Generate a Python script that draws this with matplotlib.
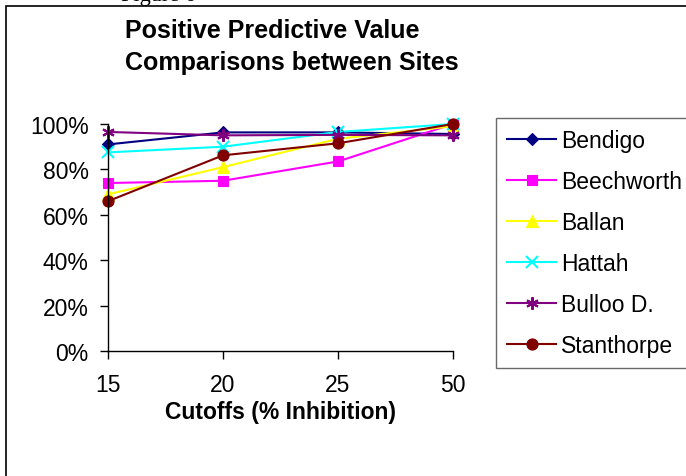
import matplotlib.pyplot as plt
from matplotlib.patches import Rectangle
from matplotlib.ticker import PercentFormatter

plt.rcParams['font.family'] = ['Liberation Sans', 'DejaVu Sans']

cutoffs = ['15', '20', '25', '50']
sites = ['Bendigo', 'Beechworth', 'Ballan', 'Hattah', 'Bulloo D.', 'Stanthorpe']
bendigo = [0.91, 0.963, 0.963, 0.956]
beechworth = [0.74, 0.75, 0.835, 1.0]
ballan = [0.69, 0.81, 0.935, 0.99]
hattah = [0.875, 0.90, 0.965, 1.0]
bulloo = [0.965, 0.95, 0.952, 0.95]
stanthorpe = [0.66, 0.862, 0.915, 1.0]
series = [bendigo, beechworth, ballan, hattah, bulloo, stanthorpe]

colors = ['#000080', '#FF00FF', '#FFFF00', '#00FFFF', '#800080', '#800000']
markers = ['D', 's', '^', 'x', (6, 2, 0), 'o']
msizes = [6.5, 7, 8, 8, 9, 8]

fig = plt.figure(figsize=(6.86, 4.77), dpi=100)
ax = fig.add_axes([108 / 686, 1 - 352 / 477, 345 / 686, 227 / 477])

x = range(len(cutoffs))
for name, vals, c, m, ms in zip(sites, series, colors, markers, msizes):
    ax.plot(x, vals, color=c, marker=m, markersize=ms, linewidth=1.5,
            markeredgewidth=1.5 if m in ('x', (6, 2, 0)) else 0.8,
            markeredgecolor=c, label=name, clip_on=False)

ax.set_xlim(0, 3)
ax.set_ylim(0, 1)
ax.set_xticks(list(x))
ax.set_xticklabels(cutoffs)
ax.set_yticks([0, 0.2, 0.4, 0.6, 0.8, 1.0])
ax.yaxis.set_major_formatter(PercentFormatter(1.0, decimals=0))
ax.tick_params(axis='both', direction='out', length=6, width=1, labelsize=16.5)
ax.tick_params(axis='x', pad=10)
ax.tick_params(axis='y', pad=8)
for side in ('top', 'right'):
    ax.spines[side].set_visible(False)
for side in ('left', 'bottom'):
    ax.spines[side].set_linewidth(1)

ax.set_xlabel('Cutoffs (% Inhibition)', fontsize=16.5, fontweight='bold', labelpad=3)

fig.text(125 / 686, 1 - 47 / 477, 'Positive Predictive Value\nComparisons between Sites',
         fontsize=18, fontweight='bold', ha='left', va='center', linespacing=1.4)

# caption cut off at the top of the image
fig.text(158 / 686, 1 - 1 / 477, 'Figure 6', family='Liberation Serif',
         fontsize=16, ha='center', va='baseline')

# outer chart frame
fig.patches.append(Rectangle((6 / 686, -0.2), 1.5, 1.2 - 7 / 477,
                             transform=fig.transFigure, fill=False,
                             edgecolor='black', linewidth=1.2))

leg = ax.legend(loc='upper left', bbox_to_anchor=(496 / 686, 1 - 119 / 477),
                bbox_transform=fig.transFigure, frameon=True, fancybox=False,
                fontsize=16.5, handlelength=2.1, handletextpad=0.25,
                labelspacing=0.78, borderpad=0.5, borderaxespad=0)
leg.get_frame().set_edgecolor('#444444')
leg.get_frame().set_linewidth(1)

fig.savefig('out.png', dpi=100)
